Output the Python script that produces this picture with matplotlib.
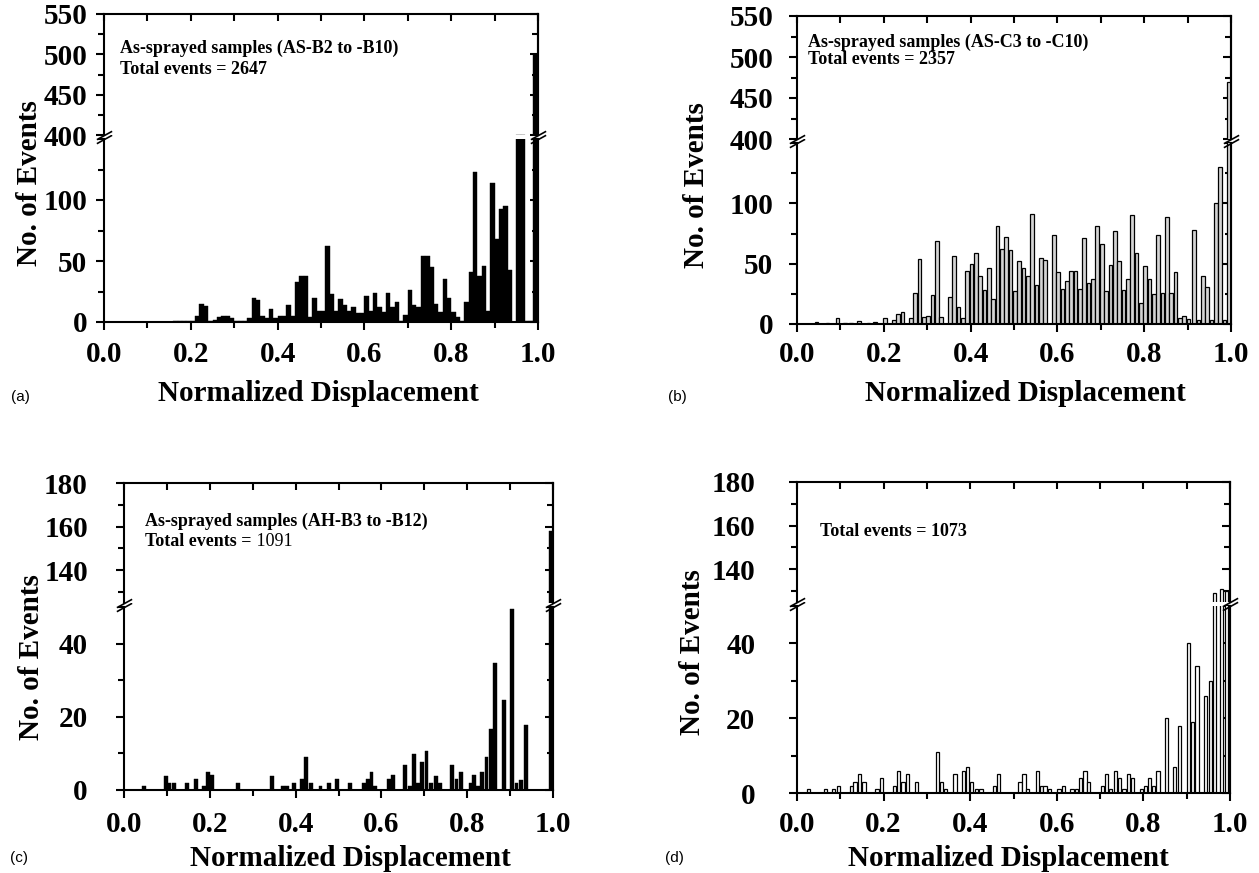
import matplotlib
matplotlib.use('Agg')
import matplotlib.pyplot as plt
from matplotlib.ticker import MultipleLocator, FixedLocator, FormatStrFormatter

# ---------------- data ----------------
# (a) As-sprayed AS-B2..B10 : bin left edges and counts
a_x = [0.16, 0.17, 0.18, 0.19, 0.20, 0.21, 0.22, 0.23, 0.24, 0.25, 0.26, 0.27, 0.28, 0.29,
       0.30, 0.31, 0.32, 0.33, 0.34, 0.35, 0.36, 0.37, 0.38, 0.39, 0.40, 0.41, 0.42, 0.43,
       0.44, 0.45, 0.46, 0.47, 0.48, 0.49, 0.50, 0.51, 0.52, 0.53, 0.54, 0.55, 0.56, 0.57,
       0.58, 0.59, 0.60, 0.61, 0.62, 0.63, 0.64, 0.65, 0.66, 0.67, 0.68, 0.69, 0.70, 0.71,
       0.72, 0.73, 0.74, 0.75, 0.76, 0.77, 0.78, 0.79, 0.80, 0.81, 0.82, 0.83, 0.84, 0.85,
       0.86, 0.87, 0.88, 0.89, 0.90, 0.91, 0.92, 0.93, 0.94, 0.95, 0.96, 0.97, 0.98, 0.988]
a_y = [0.5, 0.5, 0.5, 1, 1, 5, 15, 13, 1, 2, 4, 5, 5, 3,
       1, 1, 0.5, 3, 20, 18, 5, 3, 11, 3, 5, 5, 14, 5,
       33, 38, 38, 4, 20, 9, 9, 62, 23, 9, 19, 14, 9, 12,
       7, 7, 21, 9, 24, 12, 8, 24, 12, 16, 1, 6, 26, 14,
       12, 54, 54, 45, 15, 8, 35, 20, 8, 4, 0.5, 16, 41, 123,
       38, 46, 9, 114, 68, 93, 95, 43, 0, 400, 400, 1, 1, 500]

# (b) As-sprayed AS-C3..C10 : bar centres and counts
b_x = [0.045, 0.070, 0.093, 0.110, 0.125, 0.143, 0.165, 0.180, 0.202, 0.223, 0.233, 0.243,
       0.262, 0.272, 0.282, 0.292, 0.302, 0.312, 0.322, 0.332, 0.352, 0.362, 0.372, 0.382,
       0.392, 0.402, 0.412, 0.422, 0.432, 0.442, 0.452, 0.462, 0.472, 0.482, 0.492, 0.502,
       0.512, 0.522, 0.532, 0.542, 0.552, 0.562, 0.572, 0.592, 0.602, 0.612, 0.622, 0.632,
       0.642, 0.652, 0.662, 0.672, 0.682, 0.692, 0.702, 0.712, 0.722, 0.732, 0.742, 0.752,
       0.762, 0.772, 0.782, 0.792, 0.802, 0.812, 0.822, 0.832, 0.842, 0.852, 0.862, 0.872,
       0.882, 0.892, 0.902, 0.915, 0.925, 0.935, 0.945, 0.955, 0.965, 0.975, 0.985, 0.995]
b_y = [2, 1, 5, 1, 1, 2.5, 1, 2, 5, 3, 8, 10,
       5, 26, 54, 6, 7, 24, 69, 6, 22, 56, 14, 5,
       44, 50, 59, 40, 28, 46, 21, 81, 62, 72, 61, 27,
       52, 46, 40, 91, 32, 55, 53, 74, 43, 29, 36, 44,
       44, 29, 71, 34, 37, 81, 66, 27, 49, 77, 52, 28,
       37, 90, 59, 17, 48, 37, 25, 74, 26, 89, 26, 43,
       5, 7, 4, 78, 3, 40, 31, 3, 100, 130, 3, 470]

# (c) AH-B3..B12 : bar centres and counts
c_x = [0.047, 0.097, 0.105, 0.116, 0.147, 0.168, 0.186, 0.196, 0.206, 0.266, 0.345, 0.370,
       0.380, 0.396, 0.415, 0.425, 0.436, 0.458, 0.478, 0.497, 0.526, 0.559, 0.568, 0.577,
       0.586, 0.617, 0.627, 0.656, 0.666, 0.676, 0.686, 0.695, 0.705, 0.716, 0.727, 0.737,
       0.765, 0.775, 0.785, 0.808, 0.816, 0.826, 0.835, 0.845, 0.855, 0.865, 0.886, 0.904,
       0.915, 0.926, 0.937, 0.995]
c_y = [1, 3.8, 1.8, 2, 1.8, 3, 1, 4.8, 4, 2, 3.8, 1,
       1, 2, 3, 9, 2, 1, 2, 3, 1.8, 1.8, 3, 4.8,
       1, 3, 4, 6.8, 1, 9.8, 1.8, 7.7, 10.7, 2, 3.8, 1.8,
       6.8, 3, 4.8, 2, 4, 1, 4.8, 9, 16.8, 34.7, 24.7, 49.5,
       1.8, 2.8, 17.7, 158]

# (d) Total events = 1073 : bar centres and counts
d_x = [0.026, 0.065, 0.085, 0.095, 0.125, 0.134, 0.145, 0.155, 0.185, 0.195, 0.226, 0.235,
       0.245, 0.256, 0.276, 0.325, 0.334, 0.343, 0.365, 0.385, 0.393, 0.403, 0.415, 0.425,
       0.456, 0.465, 0.515, 0.524, 0.533, 0.555, 0.564, 0.573, 0.583, 0.605, 0.615, 0.635,
       0.645, 0.655, 0.665, 0.674, 0.705, 0.714, 0.724, 0.735, 0.745, 0.755, 0.765, 0.774,
       0.795, 0.805, 0.814, 0.824, 0.834, 0.853, 0.872, 0.883, 0.904, 0.914, 0.924, 0.944,
       0.955, 0.965, 0.981, 0.992]
d_y = [1, 1, 1, 2, 2, 3, 5, 3, 1, 4, 2, 6,
       3, 5, 3, 11, 3, 1, 5, 6, 7, 3, 1, 1,
       2, 5, 3, 5, 1, 6, 2, 2, 1, 1, 2, 1,
       1, 4, 6, 3, 2, 5, 1, 6, 4, 1, 5, 4,
       1, 2, 4, 2, 6, 20, 7, 18, 40, 19, 34, 26,
       30, 129, 131, 130]

x_ticks = [0.0, 0.2, 0.4, 0.6, 0.8, 1.0]
x_label = 'Normalized Displacement'
y_label = 'No. of Events'

# ---------------- layout ----------------
W, H = 1259, 873
fig = plt.figure(figsize=(W / 100, H / 100), dpi=100)
SERIF = ['Liberation Serif', 'DejaVu Serif']
SANS = ['Liberation Sans', 'DejaVu Sans']
LW = 1.5
GAP = 4


def px(x, y):
    return x / W, 1 - y / H


def rect(l, r, top, bot):
    return [l / W, 1 - bot / H, (r - l) / W, (bot - top) / H]


def style_ticks(ax):
    for lab in ax.get_xticklabels() + ax.get_yticklabels():
        lab.set_family(SERIF)
        lab.set_fontweight('bold')
        lab.set_fontsize(21)


def make_panel(spec):
    l, r, top, brk, bot = spec['box']
    ax_lo = fig.add_axes(rect(l, r, brk + GAP / 2, bot))
    ax_up = fig.add_axes(rect(l, r, top, brk - GAP / 2), sharex=ax_lo)
    for ax, lim, maj, mnr in ((ax_lo, spec['lo'], spec['lo_maj'], spec['lo_min']),
                              (ax_up, spec['up'], spec['up_maj'], spec['up_min'])):
        ax.set_ylim(*lim)
        ax.yaxis.set_major_locator(FixedLocator(maj))
        ax.yaxis.set_minor_locator(MultipleLocator(mnr))
        ax.bar(spec['x'], spec['y'], width=spec['w'], align=spec['align'],
               color=spec['fc'], edgecolor=spec['ec'], linewidth=spec['blw'], zorder=2)
        for s in ax.spines.values():
            s.set_linewidth(LW)
        ax.tick_params(axis='y', which='both', left=True, right=False, direction='out',
                       width=LW, pad=spec['ypad'])
        ax.tick_params(axis='y', which='major', length=6)
        ax.tick_params(axis='y', which='minor', length=4)
        sec = ax.secondary_yaxis('right')
        sec.yaxis.set_major_locator(FixedLocator(maj))
        sec.yaxis.set_minor_locator(MultipleLocator(mnr))
        sec.tick_params(which='both', direction='in', labelright=False, width=LW)
        sec.tick_params(which='major', length=6)
        sec.tick_params(which='minor', length=4)
        sec.spines['right'].set_linewidth(LW)
        ax.set_xlim(0, 1.0)
        ax.xaxis.set_major_locator(FixedLocator(x_ticks))
        ax.xaxis.set_minor_locator(MultipleLocator(0.1))
    ax_lo.spines['top'].set_visible(False)
    ax_up.spines['bottom'].set_visible(False)
    ax_up.tick_params(axis='x', which='both', bottom=False, labelbottom=False, top=True,
                      direction='in', width=LW, length=5)
    ax_lo.tick_params(axis='x', which='both', top=False, bottom=True, direction='out',
                      width=LW, pad=spec['xpad'])
    ax_lo.tick_params(axis='x', which='major', length=6)
    ax_lo.tick_params(axis='x', which='minor', length=4)
    ax_lo.xaxis.set_major_formatter(FormatStrFormatter('%.1f'))
    for ax in (ax_lo, ax_up):
        style_ticks(ax)
    # break marks
    kw = dict(marker=[(-1, -0.55), (1, 0.55)], markersize=11, linestyle='none',
              color='k', mec='k', mew=1.2, clip_on=False, zorder=5)
    ax_up.plot([0, 1], [0, 0], transform=ax_up.transAxes, **kw)
    ax_lo.plot([0, 1], [1, 1], transform=ax_lo.transAxes, **kw)
    # labels
    fig.text(*px(*spec['ylab']), y_label, rotation=90, ha='center', va='center',
             family=SERIF, fontweight='bold', fontsize=21)
    fig.text(*px(*spec['xlab']), x_label, ha='center', va='center',
             family=SERIF, fontweight='bold', fontsize=21)
    fig.text(*px(*spec['tag_pos']), spec['tag'], ha='center', va='center',
             family=SANS, fontsize=11)
    return ax_lo, ax_up


panels = [
    dict(box=(104, 538, 14, 137, 322), lo=(0, 150), up=(400, 550),
         lo_maj=[0, 50, 100], lo_min=25, up_maj=[400, 450, 500, 550], up_min=25,
         x=a_x, y=a_y, w=0.01, align='edge', fc='black', ec='black', blw=0.3,
         ypad=6, xpad=7.5, ylab=(30, 183), xlab=(318, 394), tag='(a)', tag_pos=(20, 397)),
    dict(box=(797, 1231, 16, 141, 324), lo=(0, 150), up=(400, 550),
         lo_maj=[0, 50, 100], lo_min=25, up_maj=[400, 450, 500, 550], up_min=25,
         x=b_x, y=b_y, w=0.0085, align='center', fc='#d4d4d4', ec='black', blw=0.9,
         ypad=11, xpad=6, ylab=(697, 185), xlab=(1025, 394), tag='(b)', tag_pos=(677, 397)),
    dict(box=(124, 553, 483, 605, 790), lo=(0, 50), up=(125, 180),
         lo_maj=[0, 20, 40], lo_min=10, up_maj=[140, 160, 180], up_min=10,
         x=c_x, y=c_y, w=0.009, align='center', fc='black', ec='black', blw=0.3,
         ypad=20, xpad=9, ylab=(32, 657), xlab=(350, 858), tag='(c)', tag_pos=(19, 858)),
    dict(box=(797, 1230, 482, 604, 793), lo=(0, 50), up=(125, 180),
         lo_maj=[0, 20, 40], lo_min=10, up_maj=[140, 160, 180], up_min=10,
         x=d_x, y=d_y, w=0.0075, align='center', fc='white', ec='black', blw=0.9,
         ypad=24, xpad=7, ylab=(692, 652), xlab=(1008, 858), tag='(d)', tag_pos=(674, 858)),
]

axes = [make_panel(p) for p in panels]

TXT = dict(family=SERIF, fontweight='bold', fontsize=13, ha='left', va='center')
fig.text(*px(120, 48), 'As-sprayed samples (AS-B2 to -B10)', **TXT)
fig.text(*px(120, 69), 'Total events = 2647', **TXT)
fig.text(*px(808, 42), 'As-sprayed samples (AS-C3 to -C10)', **TXT)
fig.text(*px(808, 60), 'Total events = 2357', **TXT)
fig.text(*px(145, 521), 'As-sprayed samples (AH-B3 to -B12)', **TXT)
t = fig.text(*px(145, 542), 'Total events =', **TXT)
axes[2][1].annotate(' 1091', xy=(1, 0), xycoords=t, ha='left', va='bottom',
                    family=SERIF, fontweight='normal', fontsize=13, annotation_clip=False)
fig.text(*px(820, 531), 'Total events = 1073', **TXT)

fig.savefig('out.png', dpi=100)
